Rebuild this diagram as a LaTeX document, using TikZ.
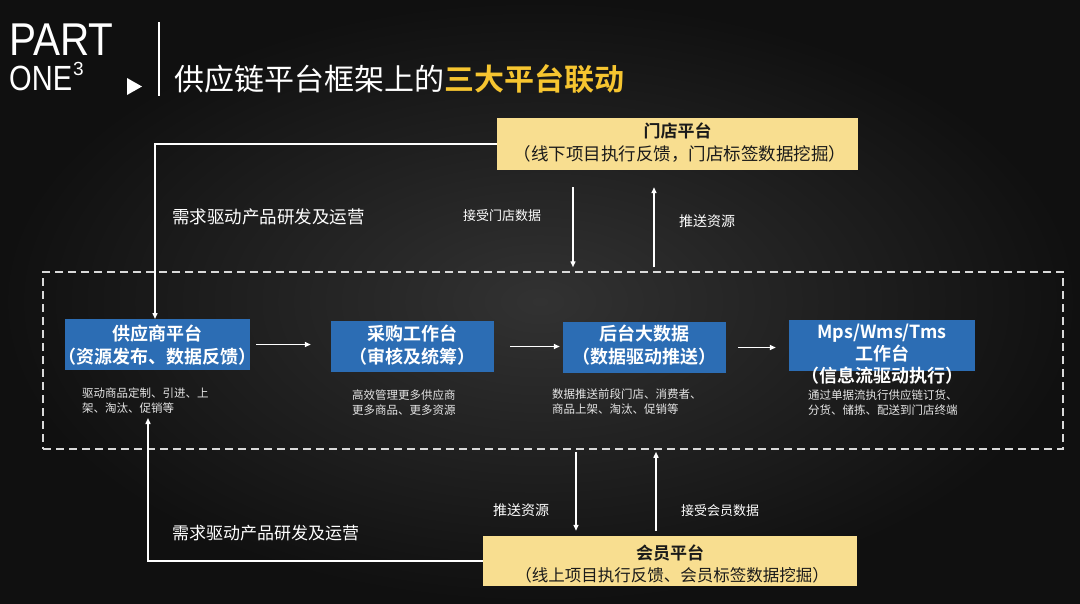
\documentclass[tikz,border=0pt]{standalone}
\usepackage{fontspec}
\usepackage{graphicx}
\setmainfont{Noto Sans CJK SC}[BoldFont={Noto Sans CJK SC Bold}]
\newfontfamily\latinfont{Liberation Sans}
\usetikzlibrary{arrows.meta}
\definecolor{bgin}{HTML}{323232}
\definecolor{bgout}{HTML}{101010}
\definecolor{titleyellow}{HTML}{F6C530}
\definecolor{paleyellow}{HTML}{F8DE90}
\definecolor{boxblue}{HTML}{2C6DB4}
\definecolor{subgray}{HTML}{E6E6E6}
\definecolor{darktext}{HTML}{1A1A1A}
\begin{document}
\begin{tikzpicture}[x=1pt,y=-1pt,
  yellowbox/.style={fill=paleyellow, draw=none, inner sep=0pt},
  bluebox/.style={fill=boxblue, draw=none, inner sep=0pt},
  boxtext/.style={text=white, align=center, font=\bfseries\fontsize{18}{23}\selectfont, inner sep=0pt},
  subtext/.style={text=subgray, align=left, anchor=north west, inner sep=0pt, font=\fontsize{11.5}{15}\selectfont},
  lbl/.style={text=white, inner sep=0pt},
  arr/.style={draw=white, line width=1.4pt, -{Triangle[length=6pt,width=5pt]}},
  dashframe/.style={draw=white!85!black, line width=1.5pt, dash pattern=on 8pt off 5pt, inner sep=0pt}
]
\useasboundingbox (0,0) rectangle (1080,603);
\shade[inner color=bgin, outer color=bgout] (0,0) rectangle (1080,603);

% header
\node[lbl, anchor=north west, align=left, font=\latinfont\fontsize{35}{35}\selectfont] (partone) at (9,24)
  {\scalebox{0.88}[1]{\fontsize{46}{46}\selectfont PART}\\
   \scalebox{0.83}[1]{ONE}\kern1pt\raisebox{15pt}{\fontsize{19}{19}\selectfont 3}};
\fill[white] (127,78) -- (127,95) -- (142,86.5) -- cycle;
\draw[white, line width=1.5pt] (159,22) -- (159,96);
\node[lbl, anchor=west] (title) at (174,79) {\fontsize{30}{30}\selectfont 供应链平台框架上的{\bfseries\color{titleyellow}三大平台联动}};

% dashed frame
\node[dashframe, minimum width=1020pt, minimum height=177pt] (frame) at (553,360.5) {};

% store platform
\node[yellowbox, minimum width=361pt, minimum height=52pt] (store) at (677.5,144) {};
\node[text=darktext, inner sep=0pt] (storet1) at (677.5,131) {\bfseries\fontsize{17}{17}\selectfont 门店平台};
\node[text=darktext, inner sep=0pt] (storet2) at (680,154) {\fontsize{17.5}{17.5}\selectfont （线下项目执行反馈，门店标签数据挖掘）};

% member platform
\node[yellowbox, minimum width=374pt, minimum height=50pt] (mem) at (670,561) {};
\node[text=darktext, inner sep=0pt] (memt1) at (670,553) {\bfseries\fontsize{17}{17}\selectfont 会员平台};
\node[text=darktext, inner sep=0pt] (memt2) at (672,575) {\fontsize{16.5}{16.5}\selectfont （线上项目执行反馈、会员标签数据挖掘）};

% blue boxes
\node[bluebox, minimum width=185pt, minimum height=51pt] (sup) at (157.5,344.5) {};
\node[boxtext] (supt) at (157.5,345) {供应商平台\\（资源发布、数据反馈）};
\node[bluebox, minimum width=163pt, minimum height=51pt] (pur) at (412.5,346.5) {};
\node[boxtext] (purt) at (412.5,345) {采购工作台\\（审核及统筹）};
\node[bluebox, minimum width=163pt, minimum height=51pt] (back) at (644.5,347.5) {};
\node[boxtext] (backt) at (644.5,345) {后台大数据\\（数据驱动推送）};
\node[bluebox, minimum width=186pt, minimum height=51pt] (mps) at (882,345.5) {};
\node[boxtext, font=\bfseries\fontsize{18}{22}\selectfont] (mpst) at (882,354) {Mps/Wms/Tms\\工作台\\（信息流驱动执行）};

% sub texts
\node[subtext] (supd) at (82,388) {驱动商品定制、引进、上\\架、淘汰、促销等};
\node[subtext] (purd) at (352,390) {高效管理更多供应商\\更多商品、更多资源};
\node[subtext] (backd) at (552,389) {数据推送前段门店、消费者、\\商品上架、淘汰、促销等};
\node[subtext] (mpsd) at (808,390) {通过单据流执行供应链订货、\\分货、储拣、配送到门店终端};

% horizontal arrows
\draw[arr, shorten <=6pt, shorten >=20pt] (sup.east) -- (sup.east -| pur.west);
\draw[arr, shorten <=16pt, shorten >=3pt] (pur.east) -- (pur.east -| back.west);
\draw[arr, shorten <=12pt, shorten >=13pt] (back.east) -- (back.east -| mps.west);

% store loop
\coordinate (supn) at (155,319);
\draw[arr] (store.west) -| (supn);
\node[lbl, anchor=west] (need1) at (172,217) {\fontsize{17.5}{17.5}\selectfont 需求驱动产品研发及运营};
\coordinate (sx1) at (573,0);
\coordinate (sx2) at (654,0);
\draw[arr, shorten <=17pt, shorten >=4pt] (store.south -| sx1) -- (frame.north -| sx1);
\draw[arr, shorten <=4pt, shorten >=17pt] (frame.north -| sx2) -- (store.south -| sx2);
\node[lbl] (recvstore) at (502,216) {\fontsize{13}{13}\selectfont 接受门店数据};
\node[lbl] (pushres1) at (707,221) {\fontsize{14}{14}\selectfont 推送资源};

% member loop
\coordinate (supb) at (148,418);
\draw[arr] (mem.west) -| (supb);
\node[lbl, anchor=west] (need2) at (172,533) {\fontsize{17}{17}\selectfont 需求驱动产品研发及运营};
\coordinate (mx1) at (576,0);
\coordinate (mx2) at (656,0);
\draw[arr, shorten <=2pt, shorten >=5pt] (frame.south -| mx1) -- (mem.north -| mx1);
\draw[arr, shorten <=5pt, shorten >=2pt] (mem.north -| mx2) -- (frame.south -| mx2);
\node[lbl] (pushres2) at (521,510) {\fontsize{14}{14}\selectfont 推送资源};
\node[lbl] (recvmem) at (720,511) {\fontsize{13}{13}\selectfont 接受会员数据};
\end{tikzpicture}
\end{document}
